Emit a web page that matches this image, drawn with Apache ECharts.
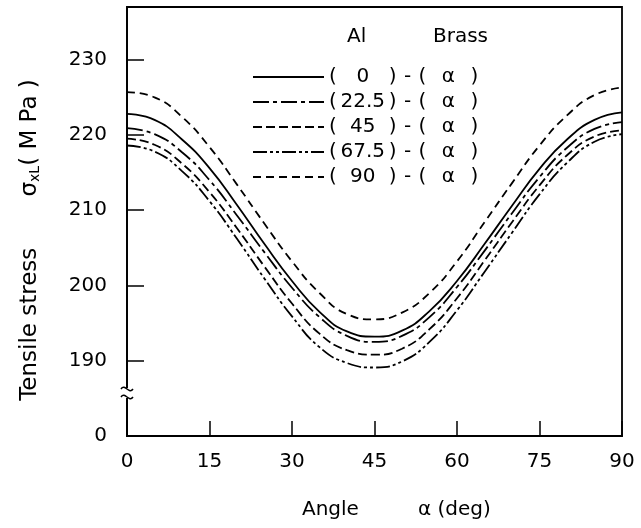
<!DOCTYPE html>
<html>
<head>
<meta charset="utf-8">
<script src="https://cdn.jsdelivr.net/npm/echarts@6/dist/echarts.min.js"></script>
<style>
  html, body { margin: 0; padding: 0; background: #fff; }
  #chart { width: 641px; height: 528px; }
</style>
</head>
<body>
<div id="chart"></div>
<script>
const angles = [0, 5, 10, 15, 20, 25, 30, 35, 40, 45, 50, 55, 60, 65, 70, 75, 80, 85, 90]

// Al fibre angle
const alLabels = ['0', '22.5', '45', '67.5', '90']

const stressAl0 = [222.8, 222.0, 219.4, 215.6, 210.7, 205.5, 200.6, 196.5, 193.9, 193.2, 194.0, 196.6, 200.6, 205.5, 210.6, 215.5, 219.4, 222.0, 223.0]
const stressAl225 = [220.9, 220.1, 217.7, 214.0, 209.3, 204.4, 199.7, 195.8, 193.3, 192.5, 193.3, 195.8, 199.8, 204.6, 209.6, 214.4, 218.3, 220.8, 221.7]
const stressAl45 = [219.5, 218.7, 216.2, 212.4, 207.6, 202.5, 197.6, 193.6, 191.4, 190.8, 191.6, 194.2, 198.3, 203.3, 208.4, 213.3, 217.3, 219.8, 220.6]
const stressAl675 = [218.6, 217.8, 215.2, 211.2, 206.2, 200.9, 195.9, 191.8, 189.7, 189.1, 189.9, 192.5, 196.7, 201.8, 207.0, 212.1, 216.3, 219.1, 220.1]
const stressAl90 = [225.7, 225.0, 222.4, 218.4, 213.4, 208.2, 203.2, 199.0, 196.2, 195.5, 196.4, 199.0, 203.2, 208.4, 213.6, 218.6, 222.6, 225.3, 226.3]

const yTicks = [180, 190, 200, 210, 220, 230]
const yTickText = ['0', '190', '200', '210', '220', '230']

const allStress = [stressAl0, stressAl225, stressAl45, stressAl675, stressAl90]
const dashes = ['solid', [16, 4, 4, 4], [9, 4], [14, 3, 3, 3, 3, 3], [8, 5]]

const font = 'DejaVu Sans'
const chart = echarts.init(document.getElementById('chart'))

const series = allStress.map((vals, i) => ({
	name: alLabels[i],
	type: 'line',
	symbol: 'none',
	smooth: true,
	data: vals.map((v, j) => [angles[j], v]),
	lineStyle: { color: '#000', width: 1.8, type: dashes[i] },
	itemStyle: { color: '#000' },
}))

const option = {
	animation: false,
	grid: {
		left: 127, right: 19, top: 7, bottom: 92,
		show: true, borderColor: '#000', borderWidth: 1.8,
	},
	xAxis: {
		type: 'value', min: 0, max: 90, interval: 15,
		axisLine: { lineStyle: { color: '#000', width: 1.8 } },
		axisTick: { inside: true, length: 15, lineStyle: { color: '#000', width: 1.5 } },
		axisLabel: { color: '#000', fontSize: 20, fontFamily: font, margin: 16 },
		splitLine: { show: false },
	},
	yAxis: {
		type: 'value', min: 180, max: 237, interval: 10,
		axisLine: { show: true, lineStyle: { color: '#000', width: 1.8 } },
		axisTick: { inside: true, length: 17, lineStyle: { color: '#000', width: 1.5 } },
		axisLabel: {
			color: '#000', fontSize: 20, fontFamily: font, margin: 20,
			formatter: v => yTickText[yTicks.indexOf(v)] ?? '',
		},
		splitLine: { show: false },
	},
	legend: {
		orient: 'vertical',
		left: 247, top: 62,
		itemWidth: 71, itemHeight: 14, itemGap: 5,
		data: alLabels,
		itemStyle: { opacity: 0 },
		formatter: name => '{p|(}{n|' + name + '}{p|)}{d|-}{p|(}{a|α}{p|)}',
		textStyle: {
			color: '#000', fontSize: 20, fontFamily: font,
			rich: {
				p: { fontSize: 20, fontFamily: font, lineHeight: 20 },
				n: { fontSize: 20, fontFamily: font, lineHeight: 20, width: 52, align: 'center' },
				d: { fontSize: 20, fontFamily: font, lineHeight: 20, width: 22, align: 'center' },
				a: { fontSize: 20, fontFamily: font, lineHeight: 20, width: 44, align: 'center' },
			},
		},
	},
	series: series,
	graphic: [
		{
			type: 'text', left: 347, top: 27,
			style: { text: 'Al', fontSize: 20, fontFamily: font, fill: '#000' },
		},
		{
			type: 'text', left: 433, top: 27,
			style: { text: 'Brass', fontSize: 20, fontFamily: font, fill: '#000' },
		},
		{
			type: 'text', left: 302, top: 500,
			style: { text: 'Angle', fontSize: 20, fontFamily: font, fill: '#000' },
		},
		{
			type: 'text', left: 418, top: 500,
			style: { text: 'α (deg)', fontSize: 20, fontFamily: font, fill: '#000' },
		},
		{
			type: 'text', x: 30, y: 240, rotation: Math.PI / 2,
			style: {
				text: 'Tensile stress       σ{sub|xL}( M Pa )',
				fontSize: 23, fontFamily: font, fill: '#000',
				align: 'center', verticalAlign: 'middle',
				rich: {
					sub: { fontSize: 14, fontFamily: font, padding: [11, 0, 0, 0] },
				},
			},
		},
		// axis break mark
		{
			type: 'rect', shape: { x: 122, y: 388, width: 10, height: 10 },
			style: { fill: '#fff' }, z: 100,
		},
		{
			type: 'bezierCurve', z: 101,
			shape: { x1: 121, y1: 389, x2: 133, y2: 389, cpx1: 125, cpy1: 383, cpx2: 129, cpy2: 395 },
			style: { stroke: '#000', lineWidth: 1.5, fill: null },
		},
		{
			type: 'bezierCurve', z: 101,
			shape: { x1: 121, y1: 397, x2: 133, y2: 397, cpx1: 125, cpy1: 391, cpx2: 129, cpy2: 403 },
			style: { stroke: '#000', lineWidth: 1.5, fill: null },
		},
	],
}

chart.setOption(option)
</script>
</body>
</html>
